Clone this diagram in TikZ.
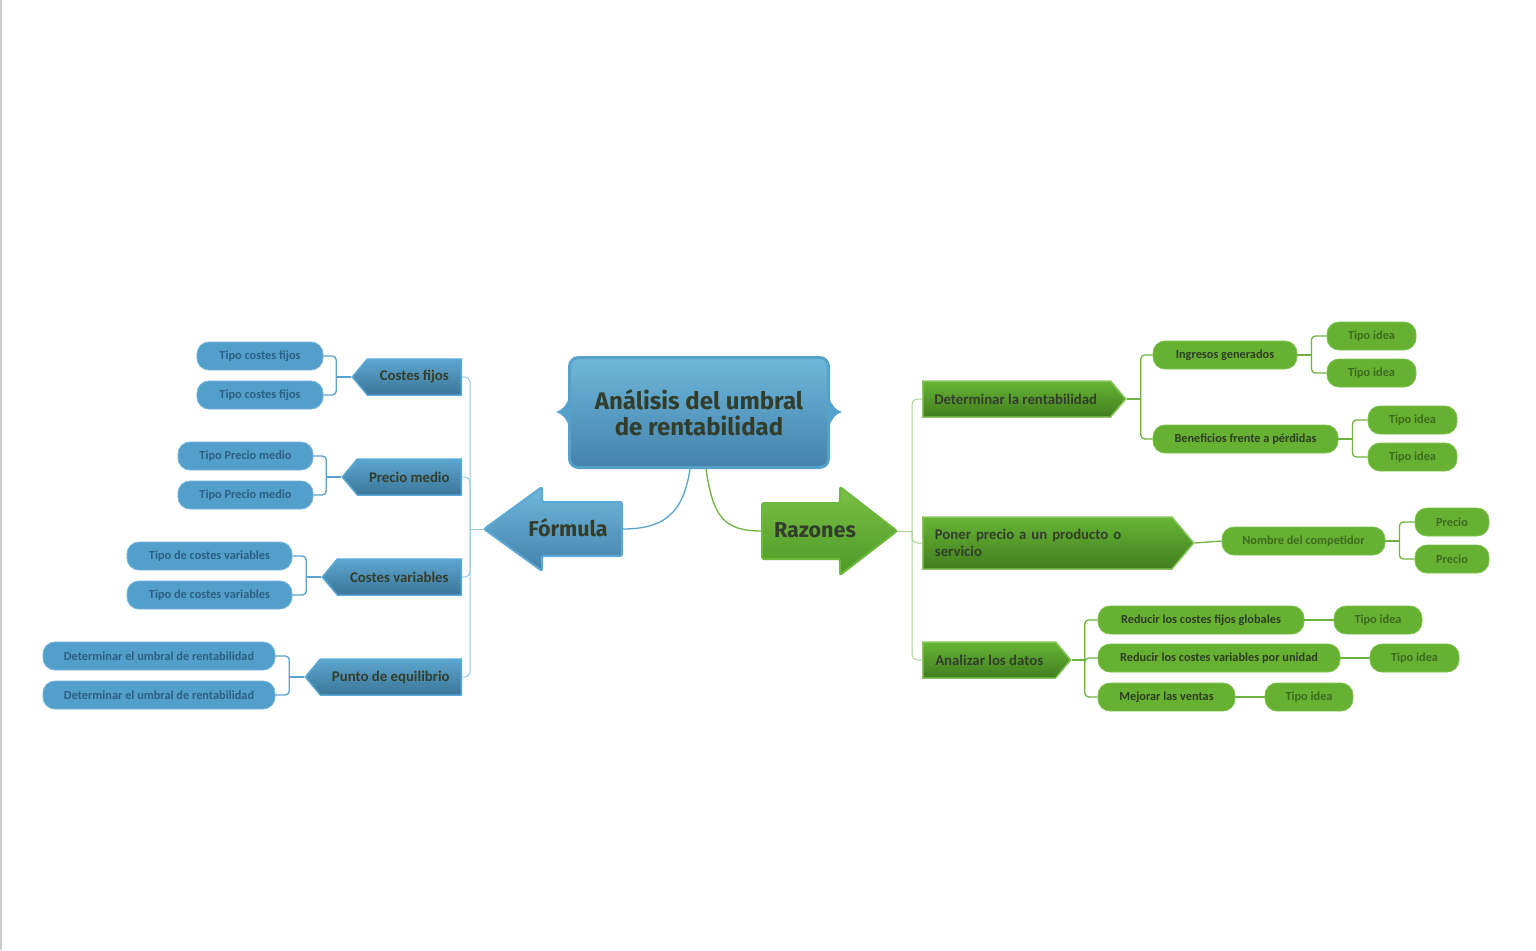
\documentclass[tikz,border=0pt]{standalone}
\usepackage{fontspec}
\setmainfont{Carlito}
\newfontfamily\headfont{Fira Sans}
\usetikzlibrary{shapes.symbols,calc}
\definecolor{cbpill}{HTML}{539FCB}
\definecolor{cbpilld}{HTML}{74B4DC}
\definecolor{cbtxt}{HTML}{2C5F82}
\definecolor{cbtagtop}{HTML}{5DA6D0}
\definecolor{cbtagbot}{HTML}{3B7698}
\definecolor{cbtagd}{HTML}{5AA8D8}
\definecolor{cdtxt}{HTML}{333D2B}
\definecolor{cgpill}{HTML}{66B132}
\definecolor{cgpilld}{HTML}{7CC24C}
\definecolor{cgtxt}{HTML}{3D6B1E}
\definecolor{cgtxtd}{HTML}{2F3C25}
\definecolor{cgtagtop}{HTML}{67B535}
\definecolor{cgtagbot}{HTML}{417E1F}
\definecolor{cgtagd}{HTML}{86C65A}
\definecolor{cbline}{HTML}{5AA3D0}
\definecolor{cblinel}{HTML}{96C8E6}
\definecolor{cgline}{HTML}{6DB33F}
\definecolor{cglinel}{HTML}{A6D58A}
\definecolor{croottop}{HTML}{6EB7DA}
\definecolor{crootmid}{HTML}{5A9EC6}
\definecolor{crootbot}{HTML}{4482AC}
\definecolor{crootd}{HTML}{56A0CC}
\definecolor{cgarrtop}{HTML}{7CC046}
\definecolor{cgarrbot}{HTML}{4C9A26}
\definecolor{cgarrd}{HTML}{6BB83A}
\begin{document}
\begin{tikzpicture}[x=1pt,y=-1pt,
  bpill/.style={rectangle, rounded corners=12pt, fill=cbpill, draw=cbpilld, line width=0.8pt,
    minimum height=28pt, inner sep=0pt, text=cbtxt, font=\bfseries\fontsize{12.3}{14}\selectfont},
  gpill/.style={rectangle, rounded corners=12pt, fill=cgpill, draw=cgpilld, line width=0.8pt,
    minimum height=28pt, inner sep=0pt, text=cgtxt, font=\bfseries\fontsize{12.3}{14}\selectfont},
  gpilld/.style={gpill, text=cgtxtd},
  btag/.style={signal, signal to=west, signal pointer angle=100, minimum height=36pt, inner sep=0pt,
    top color=cbtagtop, bottom color=cbtagbot, draw=cbtagd, line width=1.5pt, text=cdtxt,
    font=\bfseries\fontsize{14.8}{17}\selectfont, anchor=east},
  gtag/.style={signal, signal to=east, signal pointer angle=100, minimum height=36pt, inner sep=0pt,
    top color=cgtagtop, bottom color=cgtagbot, draw=cgtagd, line width=1.5pt, text=cdtxt,
    font=\bfseries\fontsize{14.8}{17}\selectfont, anchor=west},
  bline/.style={draw=cbline, line width=1.3pt},
  bmain/.style={draw=cblinel, line width=1pt},
  gline/.style={draw=cgline, line width=1.3pt},
  gmain/.style={draw=cglinel, line width=1pt},
  bigtxt/.style={text=cdtxt, font=\headfont\bfseries\fontsize{21.5}{24}\selectfont, inner sep=0pt},
  box/.style={rectangle, minimum width=#1, inner sep=0pt}
]
\useasboundingbox (0,0) rectangle (1536,950);
\fill[white] (0,0) rectangle (1536,950);
\draw[color={rgb,255:red,205;green,205;blue,205}, line width=1.5pt] (0.75,0) -- (0.75,950);

% ---------- root ----------
\path[fill=crootd] (569,398) .. controls (566,405) and (563,410) .. (556,412) .. controls (563,414) and (566,419) .. (569,426) -- cycle;
\path[fill=crootd] (829,398) .. controls (832,405) and (835,410) .. (842,412) .. controls (835,414) and (832,419) .. (829,426) -- cycle;
\node[rectangle, rounded corners=9pt, top color=croottop, middle color=crootmid, bottom color=crootbot,
  draw=crootd, line width=3pt, minimum width=259pt, minimum height=110pt, align=center, text=cdtxt,
  font=\headfont\bfseries\fontsize{24}{25.5}\selectfont, inner sep=0pt] (root) at (699,412.5)
  {Análisis del umbral\\de rentabilidad};

% ---------- Fórmula arrow ----------
\path[top color=croottop, bottom color=crootbot, draw=cbtagd, line width=2pt, rounded corners=2pt]
  (622,502) -- (542,502) -- (542,487) -- (484,529) -- (542,571) -- (542,556) -- (622,556) -- cycle;
\node[box=80pt, minimum height=54pt] (formula) at (582,529) {};
\node[bigtxt] (formulatxt) at (568,528) {Fórmula};
\coordinate (formulaW) at (484,529);

% ---------- Razones arrow ----------
\path[top color=cgarrtop, bottom color=cgarrbot, draw=cgarrd, line width=2pt, rounded corners=2pt]
  (762,503) -- (840,503) -- (840,487) -- (897,531) -- (840,575) -- (840,559) -- (762,559) -- cycle;
\node[box=78pt, minimum height=56pt] (razones) at (801,531) {};
\node[bigtxt] (razonestxt) at (815,530) {Razones};
\coordinate (razonesE) at (897,531);

% ---------- left tags ----------
\node[btag, minimum width=109pt] (cf) at (462,377) {Costes fijos};
\node[btag, minimum width=119pt] (pm) at (462,477) {Precio medio};
\node[btag, minimum width=139pt] (cv) at (462,577) {Costes variables};
\node[btag, minimum width=156pt] (pe) at (462,677) {Punto de equilibrio};

% ---------- left leaves ----------
\node[bpill, minimum width=126pt] (tcf1) at (260,356) {Tipo costes fijos};
\node[bpill, minimum width=126pt] (tcf2) at (260,395) {Tipo costes fijos};
\node[bpill, minimum width=135pt] (tpm1) at (245.5,456) {Tipo Precio medio};
\node[bpill, minimum width=135pt] (tpm2) at (245.5,495) {Tipo Precio medio};
\node[bpill, minimum width=165pt] (tcv1) at (209.5,556) {Tipo de costes variables};
\node[bpill, minimum width=165pt] (tcv2) at (209.5,595) {Tipo de costes variables};
\node[bpill, minimum width=232pt] (deu1) at (159,656) {Determinar el umbral de rentabilidad};
\node[bpill, minimum width=232pt] (deu2) at (159,695) {Determinar el umbral de rentabilidad};

% ---------- right tags ----------
\node[gtag, minimum width=203pt] (dr) at (922,399) {Determinar la rentabilidad\hspace*{2pt}};
\node[gtag, minimum width=271pt, minimum height=52pt, text width=225pt, align=left] (pp) at (922,543)
  {Poner precio a un producto o\\servicio};
\node[gtag, minimum width=148pt] (ad) at (922,660) {Analizar los datos};

% ---------- right leaves ----------
\node[gpilld, minimum width=144pt] (ig) at (1225,355) {Ingresos generados};
\node[gpill, minimum width=89pt] (ti1) at (1371.5,336) {Tipo idea};
\node[gpill, minimum width=89pt] (ti2) at (1371.5,373) {Tipo idea};
\node[gpilld, minimum width=185pt] (bf) at (1245.5,439) {Beneficios frente a pérdidas};
\node[gpill, minimum width=89pt] (ti3) at (1412.5,420) {Tipo idea};
\node[gpill, minimum width=89pt] (ti4) at (1412.5,457) {Tipo idea};
\node[gpill, minimum width=163pt] (nc) at (1303.5,541) {Nombre del competidor};
\node[gpill, minimum width=74pt] (pr1) at (1452,522) {Precio};
\node[gpill, minimum width=74pt] (pr2) at (1452,559) {Precio};
\node[gpilld, minimum width=206pt] (rf) at (1201,620) {Reducir los costes fijos globales};
\node[gpill, minimum width=88pt] (ti5) at (1378,620) {Tipo idea};
\node[gpilld, minimum width=242pt] (rv) at (1219,658) {Reducir los costes variables por unidad};
\node[gpill, minimum width=89pt] (ti6) at (1414.5,658) {Tipo idea};
\node[gpilld, minimum width=137pt] (mv) at (1166.5,697) {Mejorar las ventas};
\node[gpill, minimum width=88pt] (ti7) at (1309,697) {Tipo idea};

% ---------- root connectors ----------
\draw[bline] ($(root.south)+(-9,0)$) .. controls ($(root.south)+(-16,48)$) and ($(formula.east)+(38,0)$) .. (formula.east);
\draw[gline] ($(root.south)+(7,0)$) .. controls ($(root.south)+(14,48)$) and ($(razones.west)+(-38,0)$) .. (razones.west);

% ---------- left main ----------
\draw[bmain] (formulaW) -- ++(-14,0) coordinate (lj);
\foreach \t in {cf,pm,cv,pe} \draw[bmain, rounded corners=5pt] (lj) |- (\t.east);

% ---------- left brackets ----------
\foreach \p/\a/\b in {cf/tcf1/tcf2, pm/tpm1/tpm2, cv/tcv1/tcv2, pe/deu1/deu2}{
  \draw[bline] (\p.west) -- ++(-15,0) coordinate (j\p);
  \draw[bline, rounded corners=4pt] (j\p) |- (\a.east);
  \draw[bline, rounded corners=4pt] (j\p) |- (\b.east);
}

% ---------- right main ----------
\draw[gmain] (razonesE) -- ++(15,0) coordinate (rj);
\foreach \t in {dr,pp,ad} \draw[gmain, rounded corners=5pt] (rj) |- (\t.west);

% ---------- right brackets ----------
\foreach \p/\a/\b in {dr/ig/bf, ig/ti1/ti2, bf/ti3/ti4, nc/pr1/pr2}{
  \draw[gline] (\p.east) -- ++(14,0) coordinate (j\p);
  \draw[gline, rounded corners=4pt] (j\p) |- (\a.west);
  \draw[gline, rounded corners=4pt] (j\p) |- (\b.west);
}
\draw[gline] (pp.east) -- (nc.west);
\draw[gline] (ad.east) -- ++(13,0) coordinate (jad);
\foreach \c in {rf,rv,mv} \draw[gline, rounded corners=4pt] (jad) |- (\c.west);
\draw[gline] (rf.east) -- (ti5.west);
\draw[gline] (rv.east) -- (ti6.west);
\draw[gline] (mv.east) -- (ti7.west);
\end{tikzpicture}
\end{document}
